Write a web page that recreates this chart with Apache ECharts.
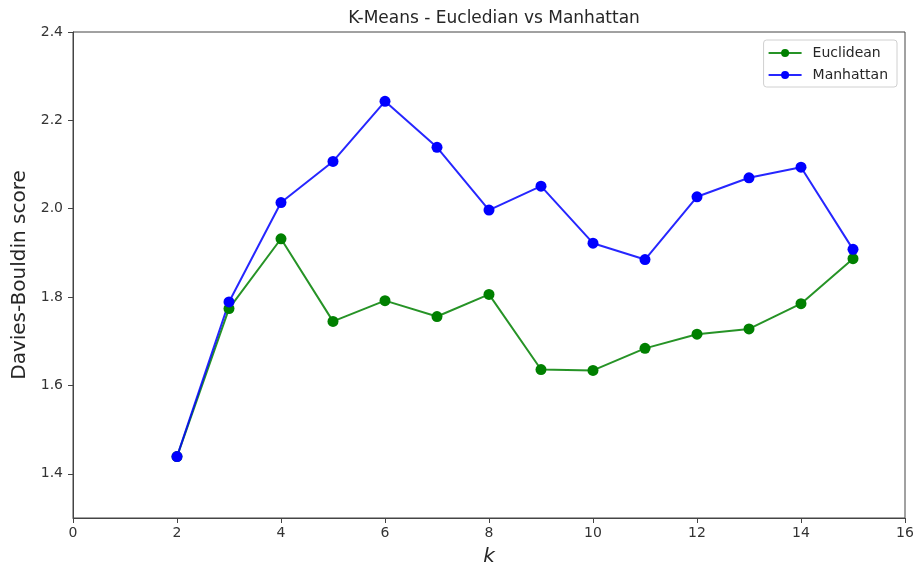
<!DOCTYPE html>
<html>
<head>
<meta charset="utf-8">
<script src="https://cdn.jsdelivr.net/npm/echarts@6/dist/echarts.min.js"></script>
<style>
html,body{margin:0;padding:0;background:#fff;}
#chart{width:915px;height:569px;}
</style>
</head>
<body>
<div id="chart"></div>
<script>
const kValues = [2, 3, 4, 5, 6, 7, 8, 9, 10, 11, 12, 13, 14, 15];
const euclidean = [1.439, 1.774, 1.932, 1.745, 1.792, 1.756, 1.806, 1.636, 1.634, 1.684, 1.716, 1.728, 1.785, 1.887];
const manhattan = [1.439, 1.789, 2.014, 2.107, 2.243, 2.139, 1.997, 2.051, 1.922, 1.885, 2.027, 2.070, 2.094, 1.908];
const yTicks = [1.4, 1.6, 1.8, 2.0, 2.2, 2.4];
const seriesNames = ['Euclidean', 'Manhattan'];
const titleText = 'K-Means - Eucledian vs Manhattan';

const font = 'DejaVu Sans';
const chart = echarts.init(document.getElementById('chart'), null, {renderer: 'canvas'});

function pairs(vals) { return kValues.map((k, i) => [k, vals[i]]); }

chart.setOption({
  animation: false,
  backgroundColor: '#fff',
  title: {
    text: titleText,
    left: 489,
    top: 5,
    textAlign: 'center',
    textStyle: {fontFamily: font, fontSize: 17, fontWeight: 'normal', color: '#262626'}
  },
  grid: {left: 73, right: 10, top: 32, bottom: 51, outerBoundsMode: 'none', containLabel: false,
    show: true, borderColor: '#444', borderWidth: 1, backgroundColor: 'transparent'},
  legend: {
    orient: 'vertical',
    right: 18,
    top: 40,
    data: seriesNames,
    itemWidth: 33,
    itemHeight: 10,
    itemGap: 8,
    padding: [6, 9, 5, 4],
    borderColor: '#d0d0d0',
    borderWidth: 1,
    borderRadius: 3,
    backgroundColor: 'rgba(255,255,255,0.8)',
    textStyle: {fontFamily: font, fontSize: 14, color: '#262626', padding: [0, 0, 0, 6]}
  },
  xAxis: {
    type: 'value',
    min: 0,
    max: 16,
    interval: 2,
    name: 'k',
    nameLocation: 'middle',
    nameGap: 29,
    nameTextStyle: {fontFamily: font, fontSize: 20, fontStyle: 'italic', color: '#262626'},
    axisLine: {show: true, onZero: false, lineStyle: {color: '#444', width: 1}},
    axisTick: {show: true, inside: false, length: 5, lineStyle: {color: '#444'}},
    axisLabel: {fontFamily: font, fontSize: 14, color: '#333', margin: 8},
    splitLine: {show: false}
  },
  yAxis: {
    type: 'value',
    min: 1.3,
    max: 2.4,
    name: 'Davies-Bouldin score',
    nameLocation: 'middle',
    nameRotate: 90,
    nameGap: 42,
    nameTextStyle: {fontFamily: font, fontSize: 20, color: '#262626'},
    axisLine: {show: true, onZero: false, lineStyle: {color: '#444', width: 1}},
    axisTick: {show: true, inside: false, length: 5, customValues: yTicks, lineStyle: {color: '#444'}},
    axisLabel: {fontFamily: font, fontSize: 14, color: '#333', margin: 10, customValues: yTicks,
      formatter: v => Number(v).toFixed(1)},
    splitLine: {show: false}
  },
  series: [
    {
      name: seriesNames[0],
      type: 'line',
      data: pairs(euclidean),
      symbol: 'circle',
      symbolSize: 11,
      itemStyle: {color: '#008000'},
      lineStyle: {color: '#008000', width: 2, opacity: 0.85}
    },
    {
      name: seriesNames[1],
      type: 'line',
      data: pairs(manhattan),
      symbol: 'circle',
      symbolSize: 11,
      itemStyle: {color: '#0000ff'},
      lineStyle: {color: '#0000ff', width: 2, opacity: 0.85}
    }
  ]
});
</script>
</body>
</html>
